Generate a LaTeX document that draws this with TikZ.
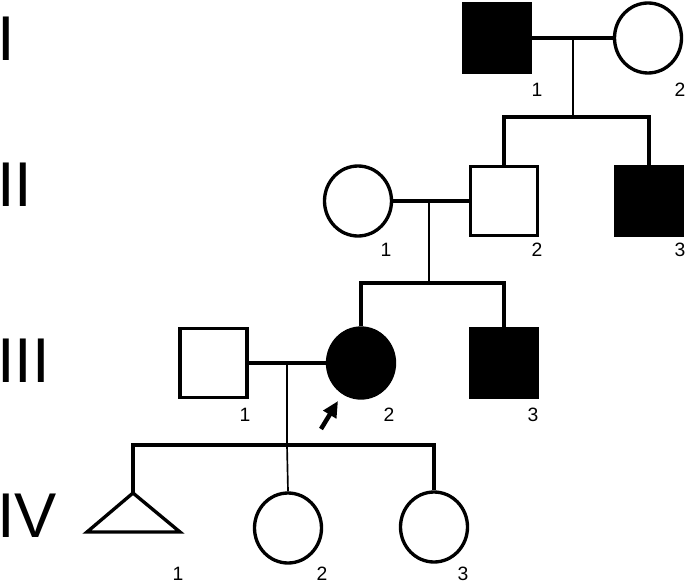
\documentclass[tikz,border=0pt]{standalone}
\usepackage{fontspec}
\setmainfont{Liberation Sans}
\usetikzlibrary{shapes.geometric,arrows.meta}
\tikzset{
  indm/.style={draw=black,line width=1.9pt,minimum width=13.4mm,
    minimum height=13.8mm,inner sep=0pt},
  indf/.style={ellipse,draw=black,line width=1.9pt,minimum width=13.4mm,
    minimum height=14mm,inner sep=0pt},
  aff/.style={fill=black},
  mline/.style={line width=1.9pt},
  sibl/.style={line width=1.9pt},
  dline/.style={line width=0.95pt},
  idlbl/.style={font=\fontsize{11}{13}\selectfont,inner sep=0pt},
  genlbl/.style={font=\fontsize{36}{40}\selectfont,inner sep=0pt,
    anchor=base west},
  proband/.style={-{Triangle[length=3.2mm,width=2.9mm]},line width=0.9mm},
}
\begin{document}
\begin{tikzpicture}[x=0.2mm,y=-0.2mm]
  \useasboundingbox (0,0) rectangle (685,584);
  % generations
  \node[genlbl] (gI) at (-3,61) {I};
  \node[genlbl] (gII) at (-3,206) {II};
  \node[genlbl] (gIII) at (-3,382) {III};
  \node[genlbl] (gIV) at (-3,537) {IV};
  % individuals
  \node[indm,aff] (I1) at (497,38) {};
  \node[indf] (I2) at (648,38) {};
  \node[indf] (II1) at (358,201) {};
  \node[indm] (II2) at (504,201) {};
  \node[indm,aff] (II3) at (649,201) {};
  \node[indm] (III1) at (213.5,363) {};
  \node[indf,aff] (III2) at (361,363) {};
  \node[indm,aff] (III3) at (504,363) {};
  \coordinate (IV1) at (133,493);
  \draw[line width=1.9pt] (IV1) -- ++(47,39) -- ++(-93,0) -- cycle;
  \node[indf] (IV2) at (288,528) {};
  \node[indf] (IV3) at (434,527) {};
  % numbers
  \node[idlbl] (nI1) at (537,90) {1};
  \node[idlbl] (nI2) at (680,90) {2};
  \node[idlbl] (nII1) at (386,250) {1};
  \node[idlbl] (nII2) at (537,250) {2};
  \node[idlbl] (nII3) at (680,250) {3};
  \node[idlbl] (nIII1) at (245,415) {1};
  \node[idlbl] (nIII2) at (389,415) {2};
  \node[idlbl] (nIII3) at (533,415) {3};
  \node[idlbl] (nIV1) at (178,574) {1};
  \node[idlbl] (nIV2) at (322,574) {2};
  \node[idlbl] (nIV3) at (463,574) {3};
  % matings and sibships
  \coordinate (m1) at (573,38);
  \coordinate (s1) at (573,117);
  \draw[mline] (I1.east) -- (I2.west);
  \draw[dline] (m1) -- (s1);
  \draw[sibl] (II2.north) |- (s1) -| (II3.north);
  \coordinate (m2) at (429,201);
  \coordinate (s2) at (429,283);
  \draw[mline] (II1.east) -- (II2.west);
  \draw[dline] (m2) -- (s2);
  \draw[sibl] (III2.north) |- (s2) -| (III3.north);
  \coordinate (m3) at (287,363);
  \coordinate (s3) at (287,445);
  \draw[mline] (III1.east) -- (III2.west);
  \draw[dline] (m3) -- (s3) -- (IV2.north);
  \draw[sibl] (IV1) |- (s3) -| (IV3.north);
  % proband
  \coordinate (pb) at (321,429);
  \coordinate (pt) at (338,401);
  \draw[proband] (pb) -- (pt);
\end{tikzpicture}
\end{document}
